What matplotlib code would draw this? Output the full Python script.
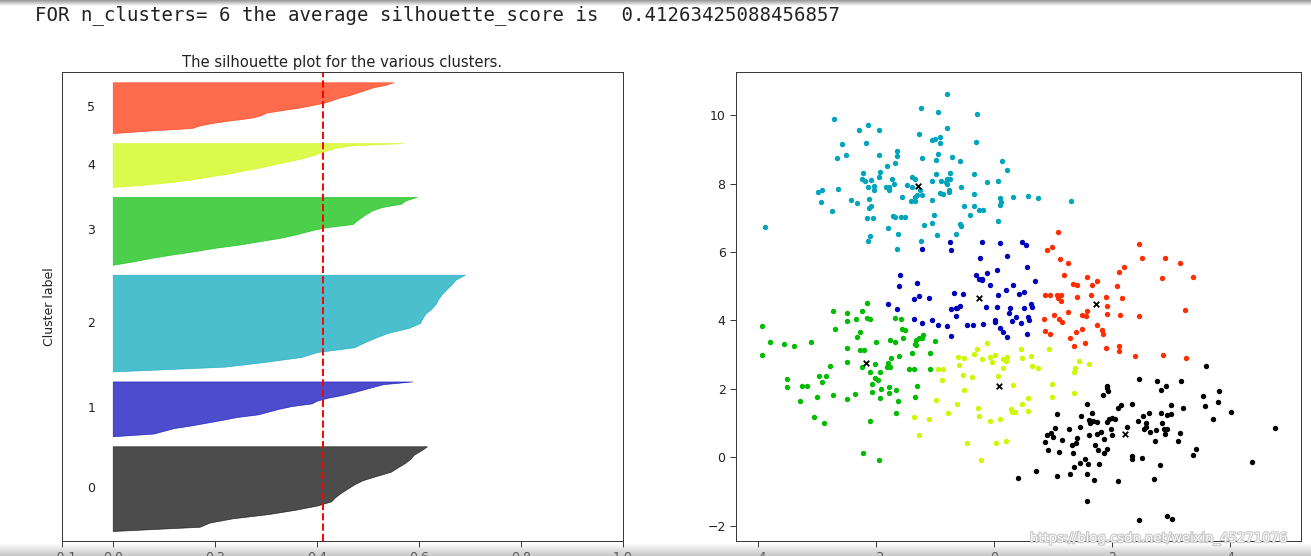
import numpy as np
import matplotlib
matplotlib.use("Agg")
import matplotlib.pyplot as plt
import matplotlib.cm as cm
import matplotlib.patheffects as pe

n_clusters = 6
silhouette_avg = 0.41263425088456857

# number of samples per cluster (heights of the silhouette blocks)
cluster_sizes = [85, 55, 97, 68, 44, 51]

# sorted silhouette values per cluster, read at 21 evenly spaced ranks (low -> high)
sil_0 = [0.0, 0.17, 0.19, 0.235, 0.305, 0.357, 0.40, 0.428, 0.436, 0.447, 0.46,
         0.473, 0.49, 0.517, 0.545, 0.558, 0.572, 0.583, 0.59, 0.604, 0.616]
sil_1 = [0.0, 0.08, 0.10, 0.12, 0.155, 0.185, 0.215, 0.242, 0.285, 0.305, 0.325,
         0.35, 0.39, 0.40, 0.42, 0.448, 0.47, 0.49, 0.51, 0.53, 0.587]
sil_2 = [0.0, 0.22, 0.30, 0.37, 0.40, 0.473, 0.493, 0.515, 0.54, 0.58, 0.602,
         0.607, 0.613, 0.625, 0.633, 0.638, 0.645, 0.654, 0.664, 0.672, 0.69]
sil_3 = [0.0, 0.04, 0.075, 0.115, 0.16, 0.20, 0.25, 0.29, 0.33, 0.36, 0.385,
         0.415, 0.47, 0.478, 0.487, 0.497, 0.508, 0.527, 0.565, 0.574, 0.596]
sil_4 = [0.0, 0.06, 0.105, 0.14, 0.17, 0.195, 0.225, 0.245, 0.27, 0.29, 0.31,
         0.33, 0.35, 0.37, 0.385, 0.40, 0.41, 0.425, 0.44, 0.47, 0.57]
sil_5 = [0.0, 0.07, 0.155, 0.17, 0.195, 0.23, 0.27, 0.29, 0.30, 0.33, 0.365,
         0.39, 0.415, 0.43, 0.445, 0.465, 0.48, 0.495, 0.51, 0.535, 0.55]
sil_profiles = [sil_0, sil_1, sil_2, sil_3, sil_4, sil_5]

# scatter points (x, y) per cluster label
pts_0 = np.array([
    [3.58, 2.66], [2.46, 2.28], [2.75, 2.24], [2.91, 2.08], [2.83, 1.96], [3.16, 2.24],
    [3.53, 1.79], [3.80, 1.93], [3.79, 1.62], [3.57, 1.49], [4.01, 1.33], [3.71, 1.10],
    [4.76, 0.86], [4.37, -0.13], [3.42, 0.24], [3.37, 0.05], [1.91, 2.08], [1.92, 2.01],
    [1.93, 1.94], [1.85, 1.83], [1.57, 1.55], [2.10, 1.44], [2.15, 1.52], [2.34, 1.54],
    [2.99, 1.52], [3.19, 1.43], [1.07, 1.26], [1.48, 1.21], [1.66, 1.29], [1.61, 1.09],
    [1.67, 1.05], [1.74, 1.02], [1.62, 1.01], [1.92, 1.04], [1.95, 1.10], [2.00, 1.14],
    [2.04, 1.10], [1.98, 0.83], [1.81, 0.74], [2.00, 0.65], [2.25, 0.89], [2.43, 1.07],
    [2.52, 1.21], [2.63, 1.29], [2.82, 1.29], [2.93, 1.22], [2.99, 1.26], [2.58, 1.01],
    [2.57, 0.89], [2.53, 0.83], [2.64, 0.72], [2.74, 0.78], [2.84, 1.00], [2.88, 0.83],
    [2.93, 0.82], [2.90, 0.69], [3.15, 0.70], [3.12, 0.48], [2.72, 0.48], [1.27, 0.82],
    [1.46, 0.89], [1.61, 0.66], [1.75, 0.69], [1.86, 0.54], [1.92, 0.25], [1.71, 0.36],
    [1.76, 0.22], [1.86, 0.13], [1.40, 0.55], [1.39, 0.42], [1.32, 0.34], [1.15, 0.51],
    [1.03, 0.86], [0.96, 0.71], [0.90, 0.65], [1.00, 0.59], [0.86, 0.43], [1.10, 0.16],
    [0.92, 0.21], [1.33, 0.13], [1.54, -0.05], [1.46, -0.17], [1.36, -0.28], [1.59, -0.21],
    [1.78, -0.20], [2.33, 0.04], [2.34, -0.06], [2.51, -0.03], [2.81, -0.24], [0.71, -0.40],
    [0.41, -0.62], [1.06, -0.54], [1.28, -0.50], [1.58, -0.49], [1.70, -0.66], [2.09, -0.71],
    [2.70, -0.63], [2.46, -1.83], [2.93, -1.73], [3.01, -1.80], [1.58, -1.27]])

pts_1 = np.array([
    [-0.74, 6.29], [-0.72, 6.05], [-0.21, 6.29], [0.11, 6.25], [0.47, 6.28], [0.54, 6.19],
    [-1.22, 6.08], [-0.23, 5.83], [0.22, 5.89], [0.56, 5.56], [-1.59, 5.34], [-1.60, 5.00],
    [-1.31, 5.10], [-0.30, 5.32], [-0.25, 5.22], [-0.21, 5.17], [-0.20, 5.22], [-0.11, 5.39],
    [0.05, 5.46], [-0.07, 5.02], [0.70, 5.14], [0.33, 5.02], [-0.67, 4.80], [-0.53, 4.78],
    [0.07, 4.74], [0.20, 4.88], [0.42, 4.77], [0.50, 4.82], [-1.36, 4.63], [-1.26, 4.70],
    [-1.10, 4.65], [-1.79, 4.48], [-1.64, 4.33], [-0.72, 4.32], [-0.65, 4.35], [-0.62, 4.37],
    [-0.58, 4.41], [-0.65, 4.13], [-0.14, 4.39], [0.05, 4.39], [0.27, 4.37], [0.51, 4.35],
    [0.62, 4.49], [0.65, 4.40], [0.25, 4.20], [0.37, 4.11], [0.30, 3.98], [0.58, 4.09],
    [0.59, 4.02], [0.45, 3.91], [0.01, 4.00], [0.02, 3.94], [-0.18, 3.90], [-0.36, 3.87],
    [-0.46, 3.86], [-0.79, 3.83], [-0.94, 3.86], [-1.05, 4.00], [-1.22, 3.91], [-1.36, 4.04],
    [0.10, 3.77], [0.16, 3.66], [0.22, 3.51], [0.56, 3.59], [-0.72, 3.53]])

pts_2 = np.array([
    [-0.79, 10.63], [-1.23, 10.22], [-0.94, 10.10], [-0.29, 10.02], [-2.70, 9.88], [-2.13, 9.70],
    [-2.28, 9.56], [-1.94, 9.56], [-0.80, 9.62], [-1.26, 9.45], [-1.05, 9.26], [-1.00, 9.31],
    [-0.91, 9.35], [-0.91, 9.18], [-0.31, 9.21], [-2.57, 9.16], [-2.17, 9.20], [-1.64, 8.94],
    [-1.64, 8.81], [-1.94, 8.84], [-2.50, 8.84], [-2.65, 8.74], [-0.95, 8.87], [-1.22, 8.74],
    [-0.98, 8.70], [-0.71, 8.77], [-0.58, 8.67], [0.14, 8.67], [-1.68, 8.60], [-1.81, 8.51],
    [-1.92, 8.35], [-1.94, 8.20], [-2.21, 8.31], [0.22, 8.40], [-2.23, 8.12], [-2.19, 8.07],
    [-2.08, 8.11], [-1.72, 8.14], [-1.69, 7.98], [-1.38, 8.18], [-1.34, 8.14], [-1.05, 8.08],
    [-0.98, 8.28], [-0.90, 8.06], [-0.82, 8.05], [-0.79, 8.13], [-0.74, 8.30], [-0.74, 8.12],
    [-0.80, 8.00], [-0.33, 8.28], [-0.11, 8.04], [0.06, 8.08], [-2.13, 7.90], [-2.03, 7.93],
    [-2.03, 7.82], [-1.82, 7.91], [-1.78, 7.82], [-1.77, 7.91], [-1.47, 7.97], [-1.38, 7.90],
    [-1.25, 7.81], [-1.21, 7.66], [-2.97, 7.76], [-2.91, 7.81], [-2.64, 7.84], [-2.92, 7.47],
    [-2.42, 7.52], [-2.31, 7.44], [-2.12, 7.56], [-1.55, 7.61], [-1.41, 7.49], [-1.33, 7.49],
    [-1.34, 7.60], [-1.31, 7.66], [-1.04, 7.51], [-0.91, 7.73], [-0.87, 7.68], [-0.76, 7.81],
    [-0.76, 7.74], [-0.55, 7.90], [-0.34, 7.70], [0.11, 7.58], [0.12, 7.46], [0.10, 7.36],
    [0.33, 7.61], [0.58, 7.65], [0.75, 7.58], [-2.74, 7.19], [-2.08, 7.34], [-2.11, 7.28],
    [-2.14, 6.98], [-2.04, 6.99], [-1.70, 7.05], [-1.68, 7.01], [-1.58, 7.03], [-1.50, 7.01],
    [-1.01, 7.08], [-1.04, 6.85], [-1.19, 6.79], [-1.80, 6.70], [-0.51, 7.34], [-0.33, 7.34],
    [-0.25, 7.22], [-0.19, 7.23], [-0.41, 7.08], [-0.57, 6.81], [-0.55, 6.77], [0.06, 6.91],
    [-3.87, 6.73], [-2.09, 6.48], [-2.13, 6.33], [-1.62, 6.52], [-1.64, 6.08], [-1.23, 6.31],
    [-0.96, 6.50], [-0.65, 6.53], [1.31, 7.49]])

pts_3 = np.array([
    [-3.93, 3.82], [-3.93, 2.98], [-3.79, 3.36], [-3.56, 3.32], [-3.38, 3.26], [-3.10, 3.38],
    [-2.73, 4.26], [-2.69, 3.74], [-2.49, 4.20], [-2.49, 3.98], [-2.33, 4.05], [-2.23, 4.26],
    [-2.15, 4.51], [-2.14, 4.08], [-2.09, 4.04], [-2.26, 3.65], [-2.32, 3.52], [-2.49, 3.20],
    [-2.27, 3.14], [-2.20, 3.12], [-2.00, 3.36], [-1.76, 3.42], [-1.68, 3.36], [-1.68, 4.08],
    [-1.57, 4.03], [-1.56, 3.76], [-1.51, 3.71], [-1.54, 3.49], [-1.32, 3.42], [-1.34, 3.32],
    [-1.32, 3.27], [-1.26, 3.48], [-1.20, 3.57], [-1.21, 3.49], [-1.00, 3.40], [-1.09, 3.05],
    [-1.38, 3.05], [-1.60, 2.95], [-1.75, 2.89], [-1.79, 2.76], [-1.81, 2.64], [-1.76, 2.64],
    [-2.02, 2.73], [-2.10, 2.48], [-1.93, 2.50], [-2.01, 2.30], [-1.96, 2.25], [-2.07, 2.13],
    [-1.91, 2.00], [-1.78, 2.05], [-1.78, 1.88], [-1.65, 1.95], [-1.93, 1.74], [-2.06, 1.89],
    [-2.49, 2.77], [-2.24, 2.64], [-2.77, 2.66], [-2.96, 2.36], [-2.84, 2.36], [-2.91, 2.20],
    [-3.51, 2.29], [-3.51, 2.04], [-3.24, 2.08], [-3.17, 2.08], [-3.29, 1.65], [-3.00, 1.76],
    [-2.73, 1.81], [-2.49, 1.69], [-2.35, 1.84], [-1.62, 1.64], [-1.43, 2.58], [-1.36, 2.57],
    [-1.08, 2.59], [-1.31, 2.07], [-1.33, 1.75], [-1.65, 1.30], [-3.05, 1.18], [-2.88, 0.99],
    [-2.10, 1.06], [-2.21, 0.13], [-1.94, -0.09]])

pts_4 = np.array([
    [-0.29, 3.16], [-0.12, 3.35], [-0.33, 3.02], [-0.61, 2.92], [-0.51, 2.89], [-0.60, 2.69],
    [-0.21, 2.86], [-0.07, 2.92], [-0.04, 2.79], [0.02, 3.00], [0.16, 2.87], [0.22, 2.93],
    [0.21, 2.82], [0.46, 3.16], [0.48, 2.91], [0.62, 2.96], [0.93, 3.17], [0.65, 2.66],
    [0.74, 2.60], [0.15, 2.62], [0.07, 2.36], [0.32, 2.12], [-0.37, 2.33], [-0.52, 2.41],
    [-0.88, 2.26], [-0.95, 2.59], [-0.87, 2.59], [-0.51, 1.95], [-0.98, 1.66], [-0.62, 1.54],
    [-0.78, 1.29], [-1.36, 1.18], [-1.10, 1.12], [-0.27, 1.45], [-0.26, 1.19], [-0.06, 1.06],
    [0.10, 1.12], [0.28, 1.40], [0.30, 1.32], [0.35, 1.32], [0.47, 1.54], [0.58, 1.74],
    [0.57, 1.35], [0.99, 2.15], [0.99, 1.76], [1.35, 1.88], [1.37, 2.60], [1.36, 2.48],
    [1.44, 2.80], [1.60, 2.73], [-1.27, 0.65], [-0.46, 0.40], [0.03, 0.40], [0.20, 0.46],
    [-0.22, -0.09]])

pts_5 = np.array([
    [1.09, 6.59], [0.98, 6.14], [0.90, 6.05], [2.46, 6.24], [2.51, 5.81], [2.90, 5.82],
    [3.15, 5.68], [1.11, 5.79], [1.26, 5.67], [2.20, 5.55], [2.12, 5.42], [1.18, 5.32],
    [1.58, 5.27], [1.75, 5.16], [1.66, 5.03], [1.33, 5.05], [1.40, 5.02], [2.08, 5.00],
    [2.84, 5.24], [3.36, 5.28], [0.87, 4.75], [0.95, 4.75], [1.07, 4.75], [1.09, 4.66],
    [1.13, 4.57], [1.13, 4.74], [1.41, 4.67], [1.65, 4.75], [1.89, 4.67], [1.92, 4.43],
    [2.17, 4.66], [3.24, 4.30], [0.84, 4.04], [1.01, 4.16], [1.10, 4.04], [1.15, 3.94],
    [1.25, 4.25], [1.49, 4.17], [1.55, 4.13], [1.58, 4.26], [1.92, 4.19], [2.14, 4.16],
    [2.46, 4.13], [1.75, 3.87], [1.49, 3.76], [1.38, 3.66], [1.29, 3.49], [1.83, 3.71],
    [1.84, 3.59], [0.87, 3.69], [0.94, 3.59], [1.35, 3.24], [1.54, 3.34], [1.89, 3.19],
    [2.11, 3.26], [2.11, 3.11], [2.39, 2.96], [2.86, 3.00], [3.25, 2.89]])
cluster_points = [pts_0, pts_1, pts_2, pts_3, pts_4, pts_5]

# cluster centres
centers_x = [2.22, -0.26, -1.28, -2.16, 0.08, 1.72]
centers_y = [0.69, 4.65, 7.94, 2.74, 2.09, 4.49]

W, H = 1311, 556
fig = plt.figure(figsize=(W / 100, H / 100), dpi=100)
ax1 = fig.add_axes([61.7 / W, 15 / H, (623 - 61.7) / W, (541 - 72.3) / H])
ax2 = fig.add_axes([736 / W, 15 / H, (1301 - 736) / W, (541 - 72.3) / H])

tick_fs = 9
for ax in (ax1, ax2):
    ax.tick_params(labelsize=tick_fs, length=4, width=0.7, colors="#333333",
                   labelcolor="#222222")
    for s in ax.spines.values():
        s.set_linewidth(0.7)
        s.set_color("#333333")

# silhouette plot
ax1.set_xlim([-0.1, 1])
ax1.set_ylim([0, sum(cluster_sizes) + (n_clusters + 1) * 10])
y_lower = 10
for i in range(n_clusters):
    size = cluster_sizes[i]
    y_upper = y_lower + size
    vals = sil_profiles[i]
    yy = np.linspace(y_lower, y_upper, len(vals))
    color = cm.nipy_spectral(float(i) / n_clusters)
    ax1.fill_betweenx(yy, 0, vals, facecolor=color, edgecolor=color, alpha=0.7, lw=0.5)
    ax1.text(-0.05, y_lower + 0.5 * size, str(i), fontsize=tick_fs, va="center",
             color="#222222")
    y_lower = y_upper + 10

ax1.set_title("The silhouette plot for the various clusters.", fontsize=10.6, pad=4,
              color="#222222")
ax1.set_ylabel("Cluster label", fontsize=tick_fs, color="#222222")
ax1.axvline(x=silhouette_avg, color="red", linestyle="--", lw=1.4)
ax1.set_yticks([])
ax1.set_xticks([-0.1, 0, 0.2, 0.4, 0.6, 0.8, 1])

# clustered data
for i in range(n_clusters):
    color = cm.nipy_spectral(float(i) / n_clusters)
    p = cluster_points[i]
    ax2.scatter(p[:, 0], p[:, 1], s=15, lw=0, color=color)
ax2.scatter(centers_x, centers_y, marker="x", c="k", s=16, lw=1.3, zorder=3)

# printed output above the figure
fig.text(35 / W, 1 - 20 / H,
         "FOR n_clusters= 6 the average silhouette_score is  0.41263425088456857",
         family="DejaVu Sans Mono", fontsize=13.7, va="baseline", color="#222222")

# watermark
fig.text(1030 / W, 14 / H, "https://blog.csdn.net/weixin_45271076", fontsize=9.5,
         color="white", alpha=0.9,
         path_effects=[pe.withStroke(linewidth=1.6, foreground="#c4c4c4")])

# screenshot shading bands (top and bottom)
def band(rect, alpha_from, alpha_to, grey):
    bax = fig.add_axes(rect)
    a = np.linspace(alpha_from, alpha_to, 32)
    img = np.zeros((32, 1, 4))
    img[:, 0, :3] = grey
    img[:, 0, 3] = a
    bax.imshow(img, aspect="auto", origin="lower", extent=[0, 1, 0, 1])
    bax.set_axis_off()

band([0, 0, 1, 13 / H], 0.55, 0.0, 0.6)
band([0, 1 - 6 / H, 1, 6 / H], 0.0, 0.75, 0.45)

fig.savefig("out.png", dpi=100)
